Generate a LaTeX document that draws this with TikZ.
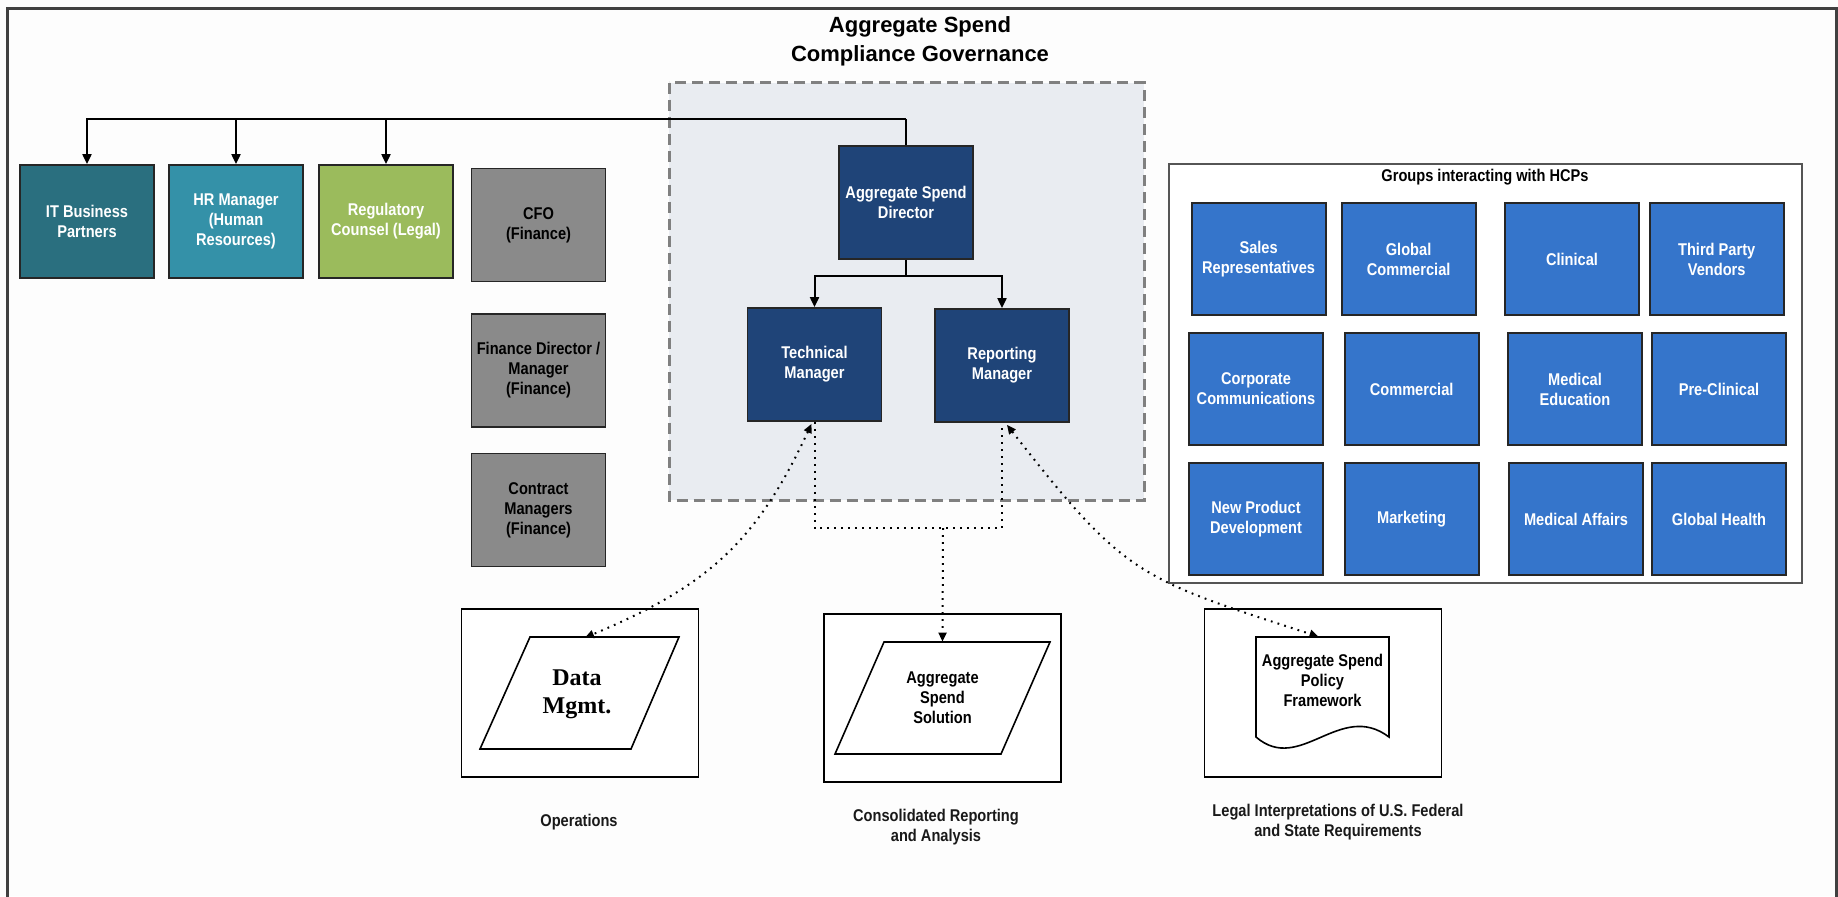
\documentclass[tikz,border=0pt]{standalone}
\usepackage{fontspec}
\setmainfont{Liberation Sans}
\newfontfamily\condsf[FakeStretch=0.86]{Liberation Sans}
\newfontfamily\titlesf{Liberation Sans}
\newfontfamily\serifface{Liberation Serif}
\usetikzlibrary{arrows.meta,calc}

\definecolor{pagebg}{HTML}{FDFDFD}
\definecolor{framegray}{HTML}{404040}
\definecolor{boxedge}{HTML}{262626}
\definecolor{itteal}{HTML}{2A6F7F}
\definecolor{hrteal}{HTML}{3491A8}
\definecolor{leggreen}{HTML}{9BBB5C}
\definecolor{fingray}{HTML}{8A8A8A}
\definecolor{navy}{HTML}{1F4478}
\definecolor{hcpblue}{HTML}{3575CB}
\definecolor{zonefill}{HTML}{E9ECF1}
\definecolor{zoneedge}{HTML}{808080}
\definecolor{groupedge}{HTML}{555555}

\tikzset{
  bustip/.tip={Triangle[length=5pt,width=4.5pt]},
  dottip/.tip={Triangle[length=4.5pt,width=4pt]}
}

\begin{document}
\begin{tikzpicture}[x=0.5pt,y=-0.5pt,
  lbl/.style={font=\condsf\bfseries\fontsize{8.5}{10}\selectfont, align=center, inner sep=0pt},
  unit/.style={lbl, draw=boxedge, line width=0.9pt, minimum width=67pt, minimum height=56.5pt, text=white},
  itbox/.style={unit, fill=itteal},
  hrbox/.style={unit, fill=hrteal},
  legbox/.style={unit, fill=leggreen},
  finbox/.style={unit, fill=fingray, text=black},
  mgrbox/.style={unit, fill=navy},
  hcpbox/.style={unit, fill=hcpblue, minimum height=56pt},
  holder/.style={draw=black, line width=0.9pt, fill=white, minimum width=118.5pt, minimum height=84pt, inner sep=0pt},
  shapeline/.style={draw=black, line width=0.8pt, fill=white},
  caption/.style={lbl, text=black!90},
  bus/.style={draw=black, line width=1pt},
  busarrow/.style={bus, -bustip},
  dots/.style={draw=black, line width=1pt, dash pattern=on 0.9pt off 2.6pt}
]
% page and outer frame
\useasboundingbox (0,0) rectangle (1838,896);
\clip (0,0) rectangle (1838,896);
\fill[pagebg] (0,0) rectangle (1838,896);
\draw[framegray, line width=1.5pt] (7,1000) -- (7,8) -- (1836,8) -- (1836,1000);

% title
\node[font=\titlesf\bfseries\fontsize{11}{14.5}\selectfont, align=center] (title) at (920,41) {Aggregate Spend\\Compliance Governance};

% governance zone
\draw[fill=zonefill, draw=zoneedge, line width=1.5pt, dash pattern=on 5.5pt off 3pt] (669,82.5) rectangle (1144,500);

% left-hand partner boxes
\node[itbox] (it) at (87,221.5) {IT Business\\Partners};
\node[hrbox] (hr) at (236,221.5) {HR Manager\\(Human\\Resources)};
\node[legbox] (reg) at (386,221.5) {Regulatory\\Counsel (Legal)};
\node[finbox] (cfo) at (538.5,225) {CFO\\(Finance)};
\node[finbox] (findir) at (538.5,370.5) {Finance Director /\\Manager\\(Finance)};
\node[finbox] (contract) at (538.5,510) {Contract\\Managers\\(Finance)};

% governance roles
\node[mgrbox] (dir) at (906,202.5) {Aggregate Spend\\Director};
\node[mgrbox] (tech) at (814.5,364.5) {Technical\\Manager};
\node[mgrbox] (rep) at (1002,365.5) {Reporting\\Manager};

% reporting lines
\coordinate (topbus) at (906,118.5);
\coordinate (midbus) at (906,276);
\draw[bus] (dir.north) -- (topbus);
\draw[busarrow] (topbus) -| (it.north);
\draw[busarrow] (topbus) -| (hr.north);
\draw[busarrow] (topbus) -| (reg.north);
\draw[bus] (dir.south) -- (midbus);
\draw[busarrow] (midbus) -| (tech.north);
\draw[busarrow] (midbus) -| (rep.north);

% groups interacting with HCPs
\node[draw=groupedge, line width=1pt, fill=white, minimum width=316.5pt, minimum height=209.5pt, inner sep=0pt] (groups) at (1485.5,373.5) {};
\node[lbl, text=black] (groupstitle) at (1485,177) {Groups interacting with HCPs};
\node[hcpbox] (sales) at (1258.6,259) {Sales\\Representatives};
\node[hcpbox] (globcom) at (1408.6,259) {Global\\Commercial};
\node[hcpbox] (clinical) at (1572,259) {Clinical};
\node[hcpbox] (vendors) at (1716.7,259) {Third Party\\Vendors};
\node[hcpbox] (corpcom) at (1256,389) {Corporate\\Communications};
\node[hcpbox] (commercial) at (1411.6,389) {Commercial};
\node[hcpbox] (meded) at (1575,389) {Medical\\Education};
\node[hcpbox] (preclin) at (1719,389) {Pre-Clinical};
\node[hcpbox] (newprod) at (1256,519) {New Product\\Development};
\node[hcpbox] (marketing) at (1411.6,519) {Marketing};
\node[hcpbox] (medaff) at (1576,519) {Medical Affairs};
\node[hcpbox] (globhealth) at (1719,519) {Global Health};

% bottom holders
\node[holder] (opsframe) at (580,693) {};
\node[holder] (solframe) at (942.4,698) {};
\node[holder] (polframe) at (1323,693.3) {};

% data management (parallelogram)
\draw[shapeline] (530,637) -- (679,637) -- (631,749) -- (480,749) -- cycle;
\node[font=\serifface\bfseries\fontsize{12}{14}\selectfont, align=center, inner sep=0pt, minimum height=56pt] (data) at (577,694) {Data\\Mgmt.};

% aggregate spend solution (parallelogram)
\draw[shapeline] (884,642) -- (1050,642) -- (1001,754) -- (835,754) -- cycle;
\node[lbl, text=black, minimum height=56pt] (solution) at (942.5,698) {Aggregate\\Spend\\Solution};

% policy framework (document)
\draw[shapeline] (1256,637) -- (1389,637) -- (1389,737)
  .. controls (1340,700) and (1300,775) .. (1256,737) -- cycle;
\node[minimum width=66.5pt, minimum height=56pt, inner sep=0pt] (policy) at (1322.5,693) {};
\node[lbl, text=black] (policytext) at (1322.5,680) {Aggregate Spend\\Policy\\Framework};

% captions
\node[caption] (opscap) at (579,822) {Operations};
\node[caption] (solcap) at (936,827) {Consolidated Reporting\\and Analysis};
\node[caption] (polcap) at (1338,822) {Legal Interpretations of U.S. Federal\\and State Requirements};

% dotted links
\coordinate (joint) at (943,528);
\draw[dots] (tech.south) |- (joint) -| (rep.south);
\draw[dots, -dottip] (joint) -- (solution.north);
\draw[dots, dottip-dottip] ($(tech.south)+(-3,2)$) .. controls (755.8,544) and (705.4,587) .. ($(data.north)+(8,0)$);
\draw[dots, dottip-dottip] ($(rep.south)+(5,2)$) .. controls (1125,576) and (1137,578) .. ($(policy.north)+(-4,0)$);
\end{tikzpicture}
\end{document}
